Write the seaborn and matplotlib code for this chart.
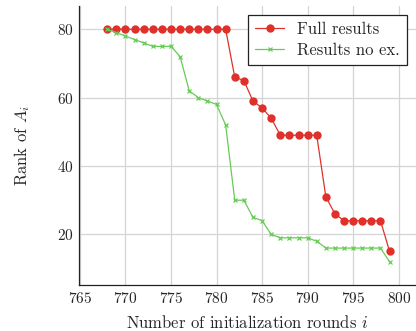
import matplotlib
matplotlib.use("Agg")
import matplotlib.pyplot as plt
import pandas as pd
import seaborn as sns

# Initialization rounds and ranks
rounds = list(range(768, 800))
full_results = [80, 80, 80, 80, 80, 80, 80, 80, 80, 80, 80, 80, 80, 80,
                66, 65, 59, 57, 54, 49, 49, 49, 49, 49,
                31, 26, 24, 24, 24, 24, 24, 15]
no_ex_results = [80, 79, 78, 77, 76, 75, 75, 75, 72, 62, 60, 59, 58, 52,
                 30, 30, 25, 24, 20, 19, 19, 19, 19, 18,
                 16, 16, 16, 16, 16, 16, 16, 12]

df = pd.DataFrame({"round": rounds, "full": full_results, "noex": no_ex_results})

sns.set_style("whitegrid")
plt.rcParams["font.family"] = ["cmr10", "DejaVu Serif"]
plt.rcParams["mathtext.fontset"] = "cm"
plt.rcParams["axes.formatter.use_mathtext"] = True
plt.rcParams["font.size"] = 11

red = "#e0302a"
green = "#66cc55"

fig = plt.figure(figsize=(4.16, 3.31), dpi=100)
ax = fig.add_axes([79 / 416, 46 / 331, 1 - 79 / 416, (285 - 6) / 331])

# seaborn gives markers a white edge by default, so set the edge colour explicitly
sns.lineplot(data=df, x="round", y="full", ax=ax, color=red, linewidth=0.9,
             marker="o", markersize=6, markeredgewidth=0, label="Full results")
sns.lineplot(data=df, x="round", y="noex", ax=ax, color=green, linewidth=0.9,
             marker="x", markersize=3.5, markeredgewidth=0.9,
             markeredgecolor=green, label="Results no ex.")

ax.set_xlim(764.9, 801.9)
ax.set_ylim(5.2, 86.8)
ax.set_xticks(range(765, 801, 5))
ax.set_yticks([20, 40, 60, 80])
ax.set_xlabel("Number of initialization rounds $i$", fontsize=12, labelpad=6)
ax.set_ylabel("Rank of $A_i$", fontsize=12, labelpad=18)

ax.grid(True, color="#d4d4d4", linewidth=0.9)
for side in ["top", "right"]:
    ax.spines[side].set_visible(False)
for side in ["left", "bottom"]:
    ax.spines[side].set_color("#222222")
    ax.spines[side].set_linewidth(0.9)
ax.tick_params(direction="in", length=3, color="#999999", labelsize=11, pad=4)

leg = ax.legend(loc="upper right", bbox_to_anchor=(0.973, 0.968), borderaxespad=0,
                fontsize=12, frameon=True, fancybox=False, framealpha=1,
                edgecolor="#222222", handlelength=1.75, handletextpad=0.8,
                borderpad=0.4, labelspacing=0.35)
leg.get_frame().set_linewidth(0.9)

fig.savefig("out.png", dpi=100)
